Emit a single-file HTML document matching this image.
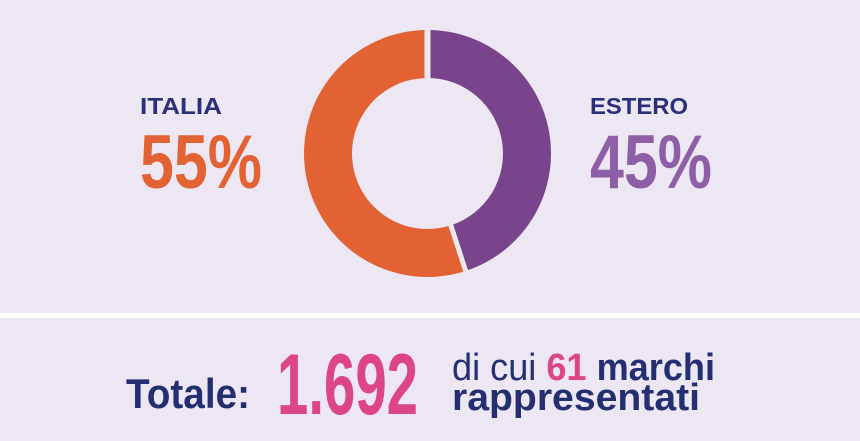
<!DOCTYPE html>
<html><head><meta charset="utf-8"><style>
html,body{margin:0;padding:0;background:#ede6f3;}
svg{display:block}
text{font-family:"Liberation Sans",sans-serif;font-weight:bold;}
</style></head><body>
<svg width="860" height="441" viewBox="0 0 860 441">
<rect width="860" height="441" fill="#ede6f3"/>
<rect x="0" y="313" width="860" height="5" fill="#ffffff"/>
<g transform="translate(427.5,153.5)">
<path d="M0,-123.5 A123.5,123.5 0 0 1 38.16,117.46 L23.33,71.81 A75.5,75.5 0 0 0 0,-75.5 Z" fill="#79448c"/>
<path d="M38.16,117.46 A123.5,123.5 0 1 1 0,-123.5 L0,-75.5 A75.5,75.5 0 1 0 23.33,71.81 Z" fill="#e26233"/>
<line x1="0" y1="-124" x2="0" y2="-75" stroke="#ebe9ee" stroke-width="6"/>
<line x1="23.2" y1="71.4" x2="38.3" y2="117.9" stroke="#ebe9ee" stroke-width="5"/>
</g>
<text x="140" y="114" font-size="23" fill="#2b2f77" textLength="82" lengthAdjust="spacingAndGlyphs">ITALIA</text>
<text x="140" y="188" font-size="76" fill="#e26233" textLength="122" lengthAdjust="spacingAndGlyphs">55%</text>
<text x="590" y="114" font-size="23" fill="#2b2f77" textLength="98" lengthAdjust="spacingAndGlyphs">ESTERO</text>
<text x="590" y="188" font-size="76" fill="#8e5fa6" textLength="122" lengthAdjust="spacingAndGlyphs">45%</text>
<text x="126" y="408" font-size="42" fill="#242f72" textLength="124" lengthAdjust="spacingAndGlyphs">Totale:</text>
<text x="277" y="414" font-size="86" fill="#dc4587" textLength="141" lengthAdjust="spacingAndGlyphs">1.692</text>
<text x="452" y="380" font-size="38" fill="#242f72" textLength="263" lengthAdjust="spacingAndGlyphs"><tspan font-weight="normal">di cui </tspan><tspan fill="#dc4587">61</tspan> marchi</text>
<text x="452" y="410" font-size="38" fill="#242f72" textLength="248" lengthAdjust="spacingAndGlyphs">rappresentati</text>
</svg>
</body></html>
